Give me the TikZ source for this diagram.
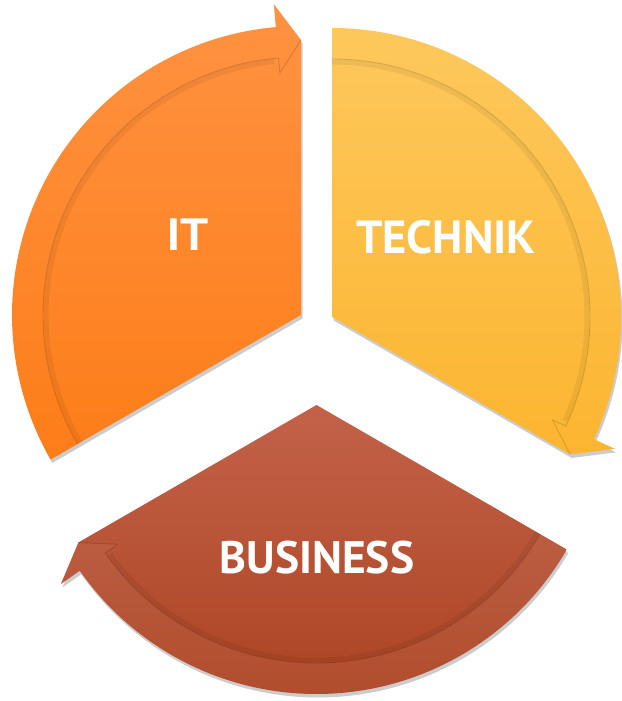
\documentclass[tikz,border=0pt]{standalone}
\usepackage{fontspec}
\setmainfont{PT Sans}
\newfontfamily\itfont{Liberation Sans}
\usetikzlibrary{shadows}
\definecolor{itTop}{RGB}{255,146,66}
\definecolor{itBot}{RGB}{253,125,24}
\definecolor{teTop}{RGB}{253,200,92}
\definecolor{teBot}{RGB}{252,181,48}
\definecolor{buTop}{RGB}{195,98,74}
\definecolor{buBot}{RGB}{172,68,34}
\tikzset{
  seg/.style={drop shadow={shadow xshift=1.5pt, shadow yshift=-3.5pt, opacity=0.2, fill=black}},
  bandsoft/.style={draw=black, opacity=0.06, line width=5pt, line join=round},
  bandline/.style={draw=black, opacity=0.15, line width=0.9pt, line join=round},
  bandlight/.style={fill=white, opacity=0.05},
  label/.style={text=white, inner sep=0pt, anchor=center}
}
\begin{document}
\begin{tikzpicture}[x=1pt,y=1pt]
\useasboundingbox (0,0) rectangle (621,701);
\def\R{289}\def\Ri{258}\def\Rbo{312}\def\Rbi{243}\def\Rt{275}
\coordinate (cIT) at (301,386);
\coordinate (cTE) at (332,384);
\coordinate (cBU) at (316.5,296);

% IT segment
\path[seg, top color=itTop, bottom color=itBot]
  (cIT) -- ([shift={(210:\R)}]cIT) arc[start angle=210, end angle=95, radius=\R]
  -- ([shift={(95:\Rbo)}]cIT) -- ([shift={(90:\Rt)}]cIT) -- cycle;
\path[bandsoft] ([shift={(210:\Ri-3)}]cIT) arc[start angle=210, end angle=96, radius=\Ri-3];
\path[bandline] ([shift={(210:\Ri)}]cIT) arc[start angle=210, end angle=95, radius=\Ri]
  -- ([shift={(95:\Rbi)}]cIT) -- ([shift={(90:\Rt)}]cIT);

% TECHNIK segment
\path[seg, top color=teTop, bottom color=teBot]
  (cTE) -- ([shift={(90:\R)}]cTE) arc[start angle=90, end angle=-25, radius=\R]
  -- ([shift={(-25:\Rbo)}]cTE) -- ([shift={(-30:\Rt)}]cTE) -- cycle;
\path[bandsoft] ([shift={(90:\Ri-3)}]cTE) arc[start angle=90, end angle=-24, radius=\Ri-3];
\path[bandline] ([shift={(90:\Ri)}]cTE) arc[start angle=90, end angle=-25, radius=\Ri]
  -- ([shift={(-25:\Rbi)}]cTE) -- ([shift={(-30:\Rt)}]cTE);

% BUSINESS segment
\path[seg, top color=buTop, bottom color=buBot]
  (cBU) -- ([shift={(-30:\R)}]cBU) arc[start angle=-30, end angle=-145, radius=\R]
  -- ([shift={(-145:\Rbo)}]cBU) -- ([shift={(-150:\Rt)}]cBU) -- cycle;
\path[bandlight] ([shift={(-30:\R)}]cBU) arc[start angle=-30, end angle=-145, radius=\R]
  -- ([shift={(-145:\Rbo)}]cBU) -- ([shift={(-150:\Rt)}]cBU) -- ([shift={(-145:\Rbi)}]cBU)
  -- ([shift={(-145:\Ri)}]cBU) arc[start angle=-145, end angle=-30, radius=\Ri] -- cycle;
\path[bandsoft] ([shift={(-30:\Ri-3)}]cBU) arc[start angle=-30, end angle=-144, radius=\Ri-3];
\path[bandline] ([shift={(-30:\Ri)}]cBU) arc[start angle=-30, end angle=-145, radius=\Ri]
  -- ([shift={(-145:\Rbi)}]cBU) -- ([shift={(-150:\Rt)}]cBU);

% labels
\node[label, font=\itfont\bfseries\fontsize{46}{50}\selectfont] (it) at (188,466) {IT};
\node[label, font=\bfseries\fontsize{46.5}{50}\selectfont] (technik) at (446,464) {TECHNIK};
\node[label, font=\bfseries\fontsize{45.5}{50}\selectfont] (business) at (317,143) {BUSINESS};
\end{tikzpicture}
\end{document}
